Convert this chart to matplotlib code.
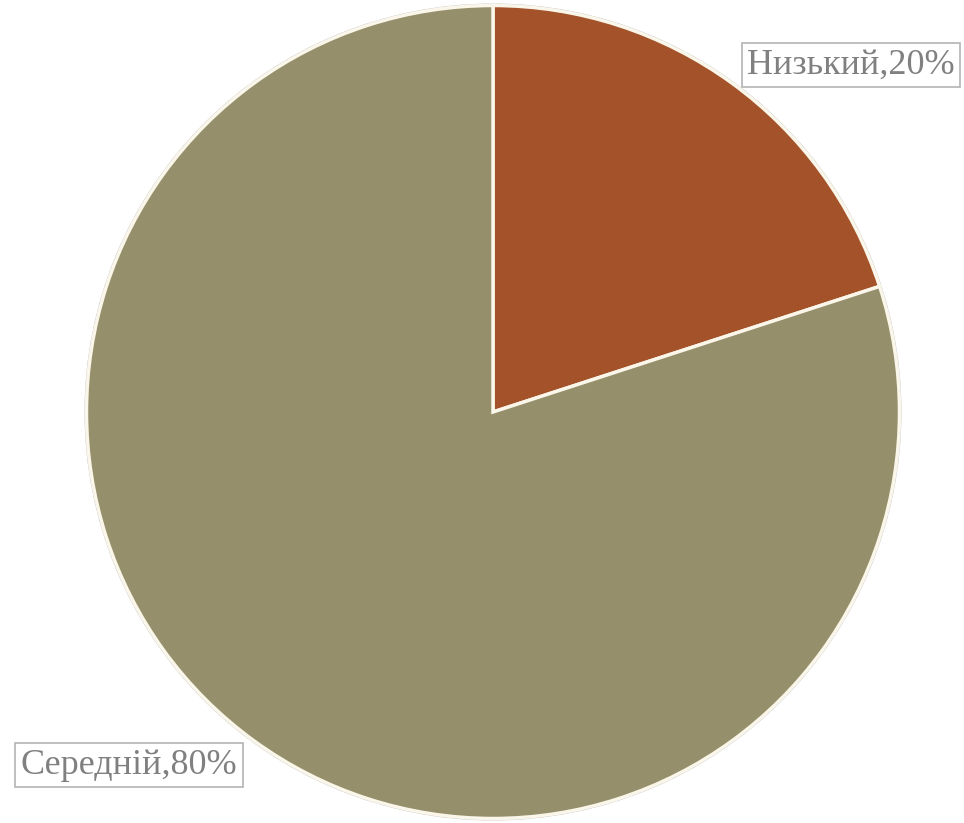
import matplotlib.pyplot as plt

# pie of levels
levels = ['Низький', 'Середній']
shares = [20, 80]
colors = ['#A35229', '#968F6B']
label_pos = [(851, 758), (129, 58)]

fig = plt.figure(figsize=(9.64, 8.23), dpi=100)
ax = fig.add_axes([0, 0, 1, 1])
ax.axis('off')

# thin grey rim behind the slices
ax.pie([1], radius=408.5, center=(493, 411), colors=['#c4c4c4'],
       wedgeprops=dict(linewidth=0))
ax.pie(shares, radius=406.5, center=(493, 411), colors=colors,
       startangle=90, counterclock=False,
       wedgeprops=dict(edgecolor='#fbf6ea', linewidth=2.5))
ax.set_xlim(0, 964)
ax.set_ylim(0, 823)
ax.set_aspect('equal')

for name, val, (x, y) in zip(levels, shares, label_pos):
    ax.text(x, y, '%s,%d%%' % (name, val), ha='center', va='center',
            fontsize=26, family='Liberation Serif', color='#808080',
            bbox=dict(boxstyle='square,pad=0.15', facecolor='white',
                      edgecolor='#b4b4b4', linewidth=1.2))

plt.savefig('out.png', dpi=100)
